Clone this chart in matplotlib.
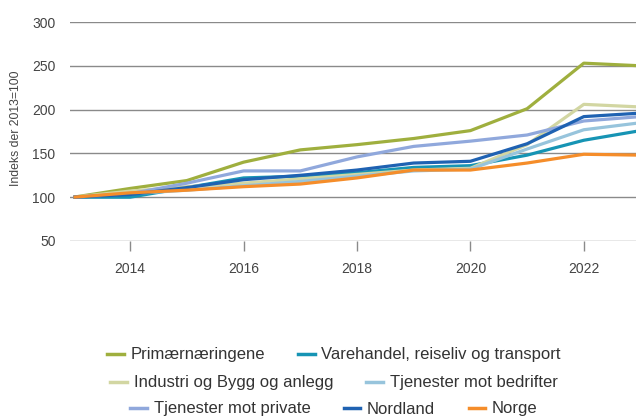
import matplotlib.pyplot as plt
from matplotlib.lines import Line2D

plt.rcParams['font.family'] = ['Liberation Sans', 'DejaVu Sans']

# Data
years = [2013, 2014, 2015, 2016, 2017, 2018, 2019, 2020, 2021, 2022, 2023]
primaer = [100, 110, 119, 140, 154, 160, 167, 176, 201, 253, 250]
varehandel = [100, 100, 111, 122, 124, 128, 134, 136, 148, 165, 176]
industri = [100, 107, 112, 116, 121, 126, 131, 133, 160, 206, 203]
tj_bedrifter = [100, 104, 108, 113, 118, 124, 130, 132, 155, 177, 185]
tj_private = [100, 104, 116, 130, 130, 146, 158, 164, 171, 187, 192]
nordland = [100, 103, 111, 120, 125, 131, 139, 141, 161, 192, 196]
norge = [100, 105, 108, 112, 115, 122, 131, 131, 139, 149, 148]

series = [
    ("Primærnæringene", primaer, "#9faf3e"),
    ("Varehandel, reiseliv og transport", varehandel, "#1694b4"),
    ("Industri og Bygg og anlegg", industri, "#d2d6a2"),
    ("Tjenester mot bedrifter", tj_bedrifter, "#97c4dc"),
    ("Tjenester mot private", tj_private, "#90a8dc"),
    ("Nordland", nordland, "#1f62b2"),
    ("Norge", norge, "#f58d2a"),
]

fig = plt.figure(figsize=(6.36, 4.17), dpi=100)
ax = fig.add_axes([69.5 / 636, 1 - 241 / 417, 571 / 636, 219 / 417])

for label, vals, col in series:
    ax.plot(years, vals, color=col, lw=2.3, solid_capstyle='butt', label=label, zorder=3)

ax.set_xlim(2012.93, 2023.0)
ax.set_ylim(50, 300)
ax.set_yticks([50, 100, 150, 200, 250, 300])
ax.set_xticks([2014, 2016, 2018, 2020, 2022])
ax.grid(axis='y', color='#8a8a8a', lw=1.0, zorder=1)
for s in ax.spines.values():
    s.set_visible(False)
ax.tick_params(axis='y', length=0, labelsize=10, labelcolor='#444444', pad=10)
ax.tick_params(axis='x', length=7.2, width=1, color='#8a8a8a', labelsize=10,
               labelcolor='#444444', pad=8)
ax.set_ylabel("Indeks der 2013=100", fontsize=8.8, color='#444444')
ax.yaxis.set_label_coords(-0.083, 0.515)

# legend in three centred rows
rows = [[0, 1], [2, 3], [4, 5, 6]]
row_y = [1 - 355 / 417, 1 - 383 / 417, 1 - 409 / 417]
for idx, ry in zip(rows, row_y):
    handles = [Line2D([], [], color=series[i][2], lw=2.5) for i in idx]
    labels = [series[i][0] for i in idx]
    leg = fig.legend(handles, labels, loc='center', bbox_to_anchor=(0.525, ry),
                     ncol=len(idx), frameon=False, fontsize=12,
                     handlelength=1.0, handletextpad=0.4, columnspacing=2.0,
                     borderpad=0)
    for t in leg.get_texts():
        t.set_color('#333333')

fig.savefig("out.png", dpi=100)
